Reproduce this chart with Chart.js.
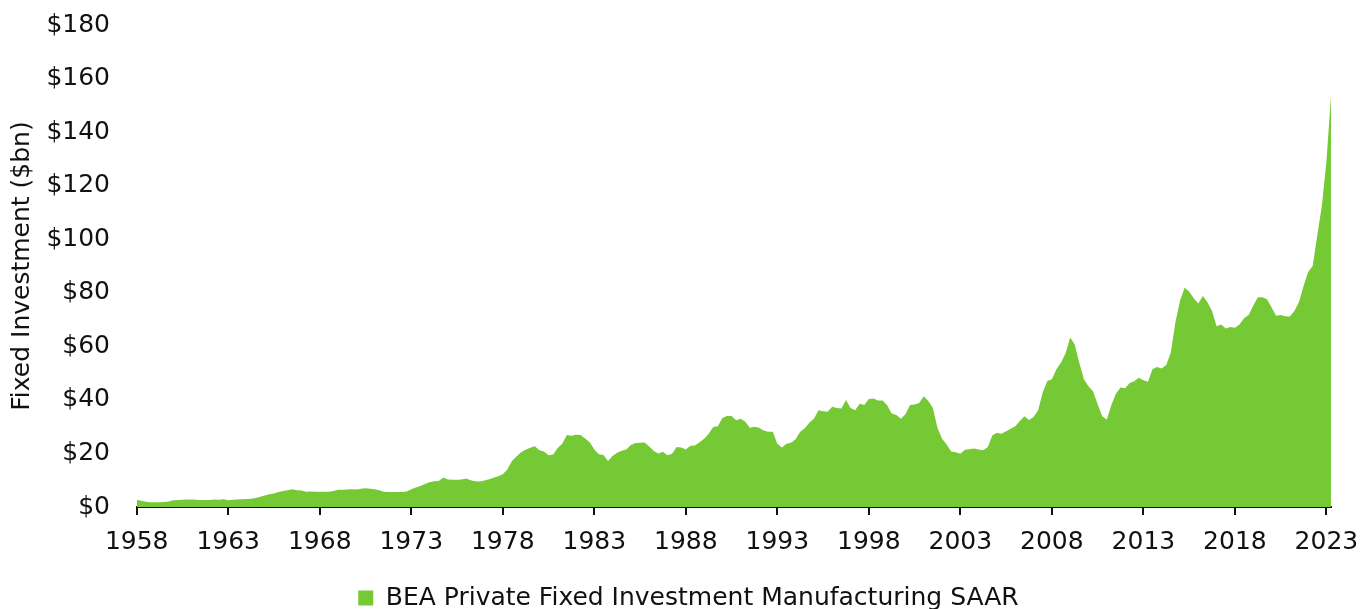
<!DOCTYPE html>
<html>
<head>
<meta charset="utf-8">
<script src="https://cdn.jsdelivr.net/npm/chart.js@4"></script>
<style>
  body { margin: 0; background: #fff; }
  #wrap { width: 1361px; height: 609px; }
</style>
</head>
<body>
<div id="wrap"><canvas id="invest-chart"></canvas></div>
<script>
// quarterly, 1958 Q1 .. 2023 Q2, $bn SAAR
var startYear = 1958;
var investment = [
  2.7, 2.3, 2.0, 1.8,   1.75, 1.8, 1.9, 2.1,   2.5, 2.6, 2.7, 2.8,   2.8, 2.7, 2.6, 2.6,
  2.6, 2.8, 2.7, 2.9,   2.5, 2.7, 2.8, 2.9,   3.0, 3.1, 3.4, 3.8,   4.3, 4.8, 5.0, 5.6,
  6.0, 6.3, 6.6, 6.3,   6.2, 5.7, 5.8, 5.7,   5.7, 5.7, 5.7, 6.0,   6.4, 6.4, 6.5, 6.6,
  6.5, 6.8, 7.0, 6.8,   6.6, 6.3, 5.7, 5.6,   5.6, 5.6, 5.6, 5.8,   6.6, 7.3, 7.8, 8.6,
  9.2, 9.6, 9.7, 11.0,  10.3, 10.2, 10.2, 10.3, 10.6, 10.0, 9.6, 9.5, 9.9, 10.4, 10.9, 11.5,
  12.2, 14.0, 17.2, 18.9, 20.4, 21.4, 22.1, 22.7, 21.2, 20.7, 19.3, 19.6, 22.0, 23.6, 26.9, 26.6,
  27.0, 26.9, 25.6, 24.2, 21.5, 19.7, 19.4, 17.2, 19.0, 20.3, 21.0, 21.5, 23.2, 23.9, 24.0, 24.1,
  22.6, 20.9, 20.0, 20.6, 19.3, 19.9, 22.4, 22.2, 21.5, 22.9, 23.0, 24.2, 25.5, 27.4, 29.9, 30.2,
  33.2, 34.0, 34.0, 32.4, 33.0, 31.8, 29.6, 30.0, 29.6, 28.6, 28.1, 28.1, 23.6, 22.2, 23.6, 24.0,
  25.3, 28.1, 29.4, 31.5, 33.0, 36.1, 35.8, 35.6, 37.4, 37.0, 36.8, 40.0, 37.0, 36.1, 38.6, 38.1,
  40.3, 40.5, 39.8, 39.8, 38.0, 34.9, 34.4, 33.0, 34.6, 38.1, 38.3, 38.8, 41.4, 39.6, 37.0, 29.5,
  25.5, 23.3, 20.7, 20.4, 19.9, 21.4, 21.6, 21.8, 21.5, 21.2, 22.4, 26.8, 27.7, 27.4, 28.3, 29.2,
  30.2, 32.1, 33.9, 32.5, 33.6, 36.1, 42.8, 47.1, 47.7, 51.4, 54.0, 57.4, 63.3, 60.7, 53.9, 47.7,
  45.1, 43.2, 38.4, 33.9, 32.7, 38.1, 42.3, 44.6, 44.3, 46.3, 47.0, 48.3, 47.3, 46.8, 51.5, 52.3,
  51.7, 53.0, 57.8, 69.0, 77.0, 81.9, 80.5, 78.0, 76.0, 78.8, 76.5, 73.2, 67.5, 68.2, 66.7, 67.2,
  66.9, 68.2, 70.5, 71.7, 75.2, 78.3, 78.3, 77.6, 74.6, 71.4, 71.7, 71.2, 71.1, 73.2, 76.6, 82.5,
  87.8, 90.0, 101.5, 112.4, 129.0, 153.5
];
var yearTicks = [1958, 1963, 1968, 1973, 1978, 1983, 1988, 1993, 1998, 2003, 2008, 2013, 2018, 2023];
var dollarTicks = [0, 20, 40, 60, 80, 100, 120, 140, 160, 180];

var quarters = investment.map(function (v, i) { return startYear + i / 4; });
var points = investment.map(function (v, i) { return { x: quarters[i], y: v }; });

var font = { family: '"DejaVu Sans", sans-serif', size: 25 };
var ink = '#111';

var ctx = document.getElementById('invest-chart').getContext('2d');
var myChart = new Chart(ctx, {
  type: 'line',
  data: {
    datasets: [{
      label: 'BEA Private Fixed Investment Manufacturing SAAR',
      data: points,
      backgroundColor: '#74c935',
      borderColor: '#74c935',
      borderWidth: 0,
      pointRadius: 0,
      fill: 'origin',
      tension: 0
    }]
  },
  options: {
    responsive: true,
    maintainAspectRatio: false,
    animation: false,
    layout: { padding: { left: 2, right: -14, top: 25, bottom: -11.5 } },
    plugins: {
      legend: {
        position: 'bottom',
        labels: { color: ink, font: font, boxWidth: 15, boxHeight: 15, padding: 6 }
      },
      tooltip: { enabled: false }
    },
    scales: {
      x: {
        type: 'linear',
        min: startYear,
        max: quarters[quarters.length - 1],
        afterBuildTicks: function (scale) {
          scale.ticks = yearTicks.map(function (y) { return { value: y }; });
        },
        afterFit: function (scale) {
          scale.height = 72.5;
          scale.paddingLeft = 0;
          scale.paddingRight = 30;
        },
        ticks: {
          color: ink, font: font, padding: 12.5, maxRotation: 0, autoSkip: false,
          callback: function (v) { return String(v); }
        },
        grid: { drawOnChartArea: false, color: ink, tickLength: 8, lineWidth: 2 },
        border: { display: true, color: ink, width: 2 }
      },
      y: {
        min: 0,
        max: 180,
        afterBuildTicks: function (scale) {
          scale.ticks = dollarTicks.map(function (v) { return { value: v }; });
        },
        afterFit: function (scale) {
          scale.width = 134.7;
          scale.paddingTop = 0;
          scale.paddingBottom = 0;
        },
        ticks: {
          color: ink, font: font, padding: 26.7,
          callback: function (v) { return '$' + v; }
        },
        grid: { display: false, drawTicks: false },
        border: { display: false },
        title: {
          display: true, text: 'Fixed Investment ($bn)', color: ink, font: font,
          padding: { top: 5.4, bottom: 5.4 }
        }
      }
    }
  }
});
</script>
</body>
</html>
